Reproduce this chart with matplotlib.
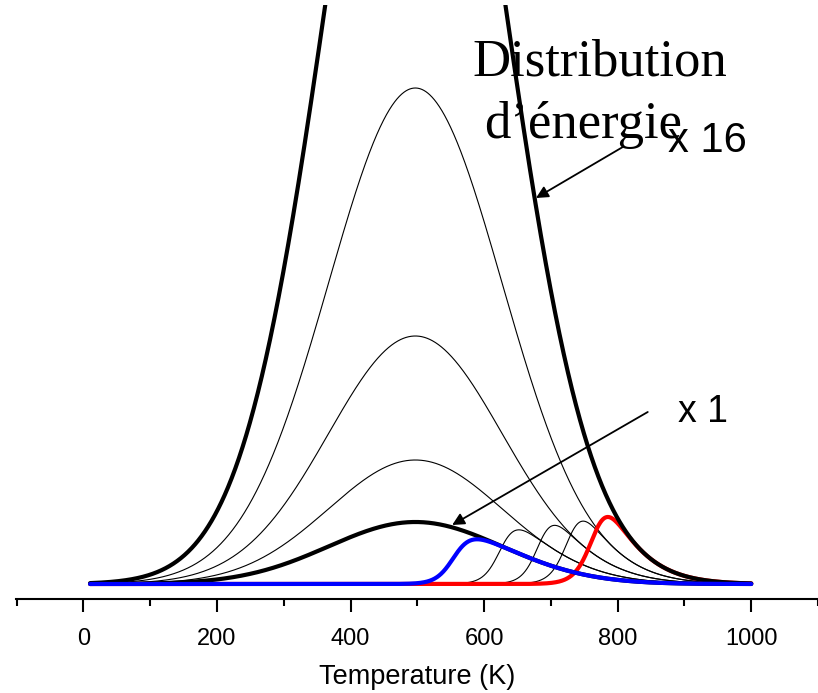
import numpy as np
import matplotlib
matplotlib.use("Agg")
import matplotlib.pyplot as plt

# ---- data ----
temperature_range = [10, 1000]          # K, extent of the curves
peak_center = 497                       # K
peak_sigma = 130                        # K
envelope_scales = [1, 2, 4, 8, 16]      # "x 1" ... "x 16"
envelope_thick = [True, False, False, False, True]
onset_scales = [1, 2, 4, 8, 16]         # envelope each onset curve follows
onset_temps = [556, 627, 685, 730, 769] # K, half-rise temperature
onset_widths = [13, 12, 11.5, 12, 12.3] # K
onset_colors = ["blue", "black", "black", "black", "red"]
xticks = [0, 200, 400, 600, 800, 1000]

T = np.linspace(temperature_range[0], temperature_range[1], 2000)

def envelope(scale):
    return scale * np.exp(-(T - peak_center) ** 2 / (2 * peak_sigma ** 2))

W, H = 818, 693
fig = plt.figure(figsize=(W / 100, H / 100), dpi=100)
ax = fig.add_axes([16 / W, (H - 599) / H, 802 / W, 594 / H])

for s, thick in zip(envelope_scales, envelope_thick):
    ax.plot(T, envelope(s), color="black", lw=3.0 if thick else 0.8,
            solid_capstyle="round", zorder=4 if thick else 2)

for s, t0, w, c in zip(onset_scales, onset_temps, onset_widths, onset_colors):
    y = envelope(s) / (1 + np.exp(-(T - t0) / w))
    if c == "black":
        ax.plot(T, y, color="black", lw=0.8, zorder=2)
    else:
        ax.plot(T, y, color=c, lw=3.0, solid_capstyle="round",
                zorder=5 if c == "blue" else 3)

ax.set_xlim(-101, 1097.6)
ax.set_ylim(-15 / 62, (584 - 5) / 62)

for sp in ["left", "right", "top"]:
    ax.spines[sp].set_visible(False)
ax.spines["bottom"].set_linewidth(1.5)
ax.set_yticks([])
ax.set_xticks(xticks)
ax.set_xticks([-100, 100, 300, 500, 700, 900, 1100], minor=True)
ax.tick_params(axis="x", which="major", direction="out", length=9, width=1.5,
               labelsize=17, pad=12)
ax.tick_params(axis="x", which="minor", direction="out", length=5, width=1.5)
for lab in ax.get_xticklabels():
    lab.set_fontfamily("Liberation Sans")
ax.set_xlabel("Temperature (K)", fontsize=19.5, family="Liberation Sans",
              labelpad=10)

# texts
fig.text(600 / W, 1 - 75 / H, "Distribution", family="Liberation Serif",
         fontsize=38, ha="center", va="baseline")
fig.text(583 / W, 1 - 138 / H, "d\u2019énergie", family="Liberation Serif",
         fontsize=38, ha="center", va="baseline")
fig.text(668 / W, 1 - 152 / H, "x 16", family="Liberation Sans",
         fontsize=30, ha="left", va="baseline")
fig.text(678 / W, 1 - 422 / H, "x 1", family="Liberation Sans",
         fontsize=27, ha="left", va="baseline")

def px2data(px, py):
    return ((px - 83.5) / 0.6692, (584 - py) / 62)

arrowprops = dict(arrowstyle="-|>", color="black", lw=1.3,
                  mutation_scale=18, shrinkA=0, shrinkB=0)
ax.annotate("", xy=px2data(537, 198), xytext=px2data(624, 147),
            arrowprops=arrowprops, annotation_clip=False)
ax.annotate("", xy=px2data(453, 525), xytext=px2data(649, 412),
            arrowprops=arrowprops, annotation_clip=False)

fig.savefig("out.png", dpi=100)
